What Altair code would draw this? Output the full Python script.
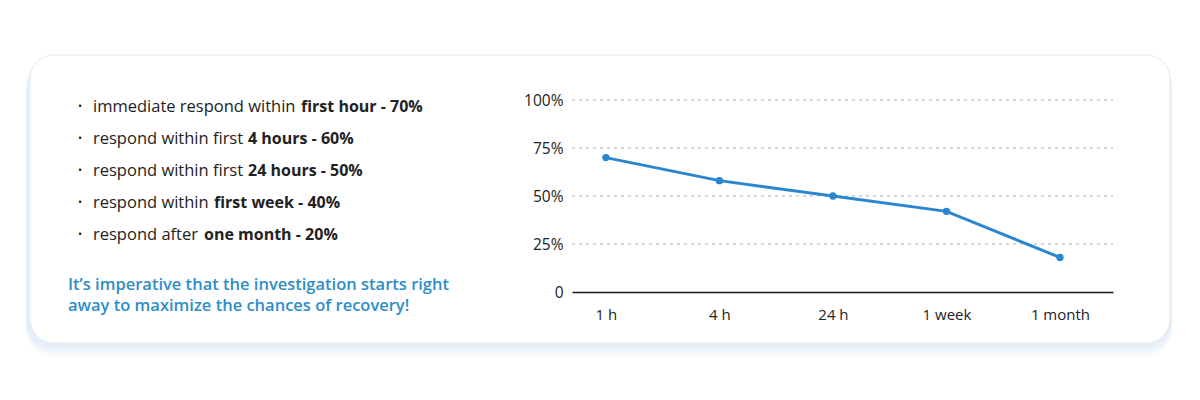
import altair as alt
import pandas as pd

# ---- data ----
periods = ["1 h", "4 h", "24 h", "1 week", "1 month"]
recovery = [70, 58, 50, 42, 18]

bullet_normal = ["immediate respond within ", "respond within first ", "respond within first ",
                 "respond within ", "respond after "]
bullet_bold = ["first hour - 70%", "4 hours - 60%", "24 hours - 50%",
               "first week - 40%", "one month - 20%"]
note_lines = ["It\u2019s imperative that the investigation starts right",
              "away to maximize the chances of recovery!"]
y_ticks = [0, 25, 50, 75, 100]
grid_values = [25, 50, 75, 100]

df = pd.DataFrame({"period": periods, "value": recovery})
grid_df = pd.DataFrame({"value": grid_values})
one = pd.DataFrame({"k": [0]})

# layout (pixels relative to plot origin at 572,100)
W, H = 541, 192
OX, OY = 572, 100
FONT = "Open Sans"
TXT = "#222222"
BLUE = "#2b86d0"

layers = []

# card shadow (fake blur with stacked translucent rects)
for off, op in [(13, 0.2), (9, 0.3), (5, 0.45)]:
    layers.append(
        alt.Chart(one).mark_rect(cornerRadius=26, fill="#d9e8f7", opacity=op).encode(
            x=alt.value(30 - OX - 4), x2=alt.value(1170 - OX + 2),
            y=alt.value(55 - OY + off), y2=alt.value(343 - OY + off)
        )
    )
# card
layers.append(
    alt.Chart(one).mark_rect(cornerRadius=24, fill="white", stroke="#e4e9ef", strokeWidth=1).encode(
        x=alt.value(30 - OX), x2=alt.value(1170 - OX),
        y=alt.value(55 - OY), y2=alt.value(343 - OY)
    )
)

# bullet list
FS = 16.5
bold_x = [301, 248, 248, 214, 204]
base_y = [112, 144, 176, 208, 240]
for i in range(len(bullet_normal)):
    y = base_y[i] - OY
    layers.append(alt.Chart(one).mark_text(text="\u2022", font=FONT, fontSize=11, color=TXT,
                                           align="left", baseline="alphabetic").encode(
        x=alt.value(78 - OX), y=alt.value(y - 2)))
    layers.append(alt.Chart(one).mark_text(text=bullet_normal[i], font=FONT, fontSize=FS, color=TXT,
                                           align="left", baseline="alphabetic").encode(
        x=alt.value(93 - OX), y=alt.value(y)))
    layers.append(alt.Chart(one).mark_text(text=bullet_bold[i], font=FONT, fontSize=16, color=TXT,
                                           fontWeight="bold", align="left", baseline="alphabetic").encode(
        x=alt.value(bold_x[i] - OX), y=alt.value(y)))

# blue note
for i, t in enumerate(note_lines):
    layers.append(alt.Chart(one).mark_text(text=t, font=FONT, fontSize=FS, color="#2e8ec8",
                                           fontWeight=600, align="left", baseline="alphabetic").encode(
        x=alt.value(68 - OX), y=alt.value(290 + i * 21 - OY)))

# dashed grid lines
layers.append(
    alt.Chart(grid_df).mark_rule(color="#adadad", strokeDash=[3, 4], strokeWidth=1).encode(
        y=alt.Y("value:Q", scale=alt.Scale(domain=[0, 100], nice=False)),
        x=alt.value(0), x2=alt.value(W)
    )
)

# line chart
x_enc = alt.X("period:N", sort=periods,
              scale=alt.Scale(type="point", padding=0.383, align=0.39),
              axis=alt.Axis(title=None, labelAngle=0, ticks=False, grid=False, zindex=1,
                            domain=True, domainColor="#1a1a1a", domainWidth=1.5,
                            labelFont=FONT, labelFontSize=15, labelColor=TXT, labelPadding=15))
y_enc = alt.Y("value:Q", scale=alt.Scale(domain=[0, 100], nice=False),
              axis=alt.Axis(title=None, values=y_ticks, domain=False, ticks=False,
                            grid=False, zindex=1,
                            labelExpr="datum.value == 0 ? '0' : datum.value + '%'",
                            labelFont=FONT, labelFontSize=15.5, labelColor=TXT, labelPadding=9))

line = alt.Chart(df).mark_line(color=BLUE, strokeWidth=3).encode(x=x_enc, y=y_enc)
pts = alt.Chart(df).mark_circle(color=BLUE, size=55, opacity=1).encode(x=x_enc, y=y_enc)
layers += [line, pts]

chart = alt.layer(*layers).properties(
    width=W, height=H,
    autosize=alt.AutoSizeParams(type="none"),
    padding={"left": OX, "top": OY, "right": 1200 - OX - W, "bottom": 400 - OY - H},
    background="white",
).configure_view(stroke=None)

chart.save("out.html", embed_options={"renderer": "svg", "actions": False})
